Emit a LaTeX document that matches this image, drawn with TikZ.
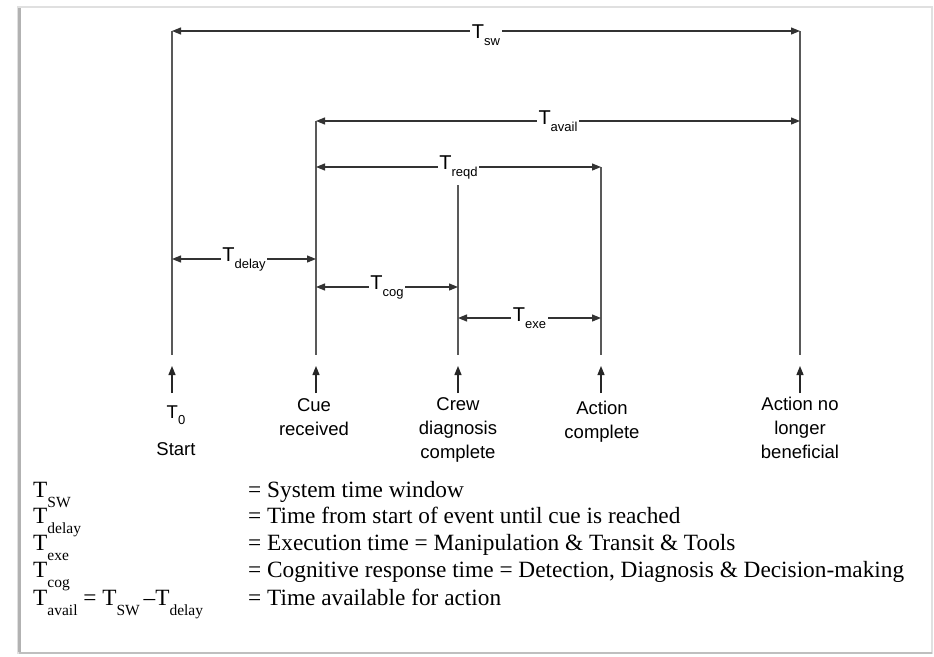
\documentclass[tikz,border=0pt]{standalone}
\usepackage{fontspec}
\setmainfont{Liberation Serif}
\newfontfamily\arialf{Liberation Sans}
\usetikzlibrary{arrows.meta}
\newcommand\ssub[1]{\raisebox{-0.35em}{\fontsize{13}{13}\selectfont #1}}
\newcommand\rsub[1]{\raisebox{-0.45em}{\fontsize{15.5}{15.5}\selectfont #1}}
\begin{document}
\begin{tikzpicture}[x=1pt,y=-1pt,
 tip/.tip={Triangle[length=9pt,width=7pt]},
 dim/.style={draw=black!80, line width=1.2pt, tip-tip},
 vline/.style={draw=black!65, line width=1.4pt},
 uparrow/.style={draw=black!85, line width=1.2pt, -tip},
 dlabel/.style={fill=white, inner sep=1.5pt, font=\arialf\fontsize{20}{20}\selectfont},
 evlabel/.style={font=\arialf\fontsize{18.5}{24}\selectfont, anchor=base, inner sep=0pt},
 legend/.style={font=\fontsize{23.3}{23.3}\selectfont, anchor=base west, inner sep=0pt}]
\useasboundingbox (0,0) rectangle (934,656);
\fill[white] (0,0) rectangle (934,656);
% frame
\draw[black!12, line width=2pt] (18,7) rectangle (932,653);
\draw[black!30, line width=3pt] (19,8) -- (19,652);
\draw[black!25, line width=2pt] (19,653) -- (932,653);
% coordinates
\coordinate (a1) at (172,31);  \coordinate (a2) at (172,355);
\coordinate (b1) at (316,121); \coordinate (b2) at (316,355);
\coordinate (c1) at (458,185); \coordinate (c2) at (458,355);
\coordinate (d1) at (601,167); \coordinate (d2) at (601,355);
\coordinate (e1) at (800,31);  \coordinate (e2) at (800,355);
% verticals
\draw[vline] (a1) -- (a2);
\draw[vline] (b1) -- (b2);
\draw[vline] (c1) -- (c2);
\draw[vline] (d1) -- (d2);
\draw[vline] (e1) -- (e2);
% dimension arrows
\draw[dim] (a1) -- node[dlabel, yshift=-4pt] (lsw) {T\ssub{sw}} (e1);
\coordinate (b3) at (316,121); \coordinate (e3) at (800,121);
\draw[dim] (b3) -- node[dlabel] (lavail) {T\ssub{avail}} (e3);
\coordinate (b4) at (316,167); \coordinate (d4) at (601,167);
\draw[dim] (b4) -- node[dlabel] (lreqd) {T\ssub{reqd}} (d4);
\coordinate (a5) at (172,259); \coordinate (b5) at (316,259);
\draw[dim] (a5) -- node[dlabel] (ldelay) {T\ssub{delay}} (b5);
\coordinate (b6) at (316,287); \coordinate (c6) at (458,287);
\draw[dim] (b6) -- node[dlabel] (lcog) {T\ssub{cog}} (c6);
\coordinate (c7) at (458,318); \coordinate (d7) at (601,318);
\draw[dim] (c7) -- node[dlabel] (lexe) {T\ssub{exe}} (d7);
% up arrows
\foreach \n/\x in {ua/172,ub/316,uc/458,ud/601,ue/800}{
  \coordinate (\n1) at (\x,393); \coordinate (\n2) at (\x,366);
  \draw[uparrow] (\n1) -- (\n2);
}
% event labels
\node[evlabel] (t0) at (176,418) {T\ssub{0}};
\node[evlabel] (start) at (176,455) {Start};
\node[evlabel] (cue1) at (314,411) {Cue};
\node[evlabel] (cue2) at (314,435) {received};
\node[evlabel] (crew1) at (458,410) {Crew};
\node[evlabel] (crew2) at (458,434) {diagnosis};
\node[evlabel] (crew3) at (458,458) {complete};
\node[evlabel] (act1) at (602,414) {Action};
\node[evlabel] (act2) at (602,438) {complete};
\node[evlabel] (nl1) at (800,410) {Action no};
\node[evlabel] (nl2) at (800,434) {longer};
\node[evlabel] (nl3) at (800,458) {beneficial};
% legend
\node[legend] (k1) at (33,497) {T\rsub{SW}};
\node[legend] (k2) at (33,523) {T\rsub{delay}};
\node[legend] (k3) at (33,550) {T\rsub{exe}};
\node[legend] (k4) at (33,577) {T\rsub{cog}};
\node[legend] (k5) at (33,605) {T\rsub{avail} = T\rsub{SW} \kern-2pt--T\rsub{delay}};
\node[legend] (v1) at (248,497) {= System time window};
\node[legend] (v2) at (248,523) {= Time from start of event until cue is reached};
\node[legend] (v3) at (248,550) {= Execution time = Manipulation \& Transit \& Tools};
\node[legend] (v4) at (248,577) {= Cognitive response time = Detection, Diagnosis \& Decision-making};
\node[legend] (v5) at (248,605) {= Time available for action};
\end{tikzpicture}
\end{document}
